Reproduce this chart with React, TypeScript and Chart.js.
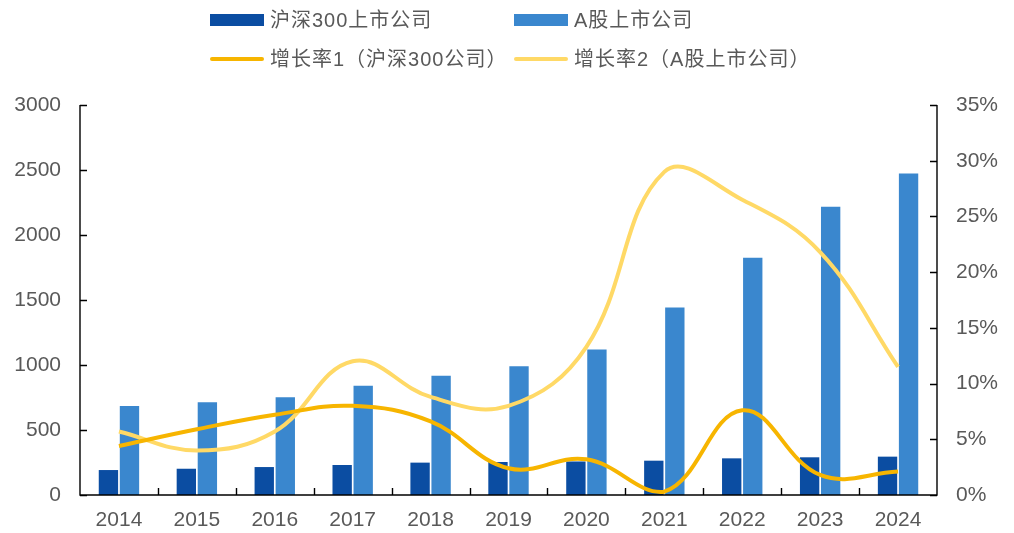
import React, { useEffect, useRef } from "react";
import { Chart, registerables } from "chart.js";
Chart.register(...registerables);

const years = ["2014", "2015", "2016", "2017", "2018", "2019", "2020", "2021", "2022", "2023", "2024"];
const hs300Companies = [192, 202, 215, 231, 249, 254, 258, 264, 282, 290, 295];
const aShareCompanies = [684, 713, 751, 841, 918, 990, 1120, 1443, 1825, 2217, 2474];
const growthRate1 = [4.4, 5.9, 7.2, 8.0, 6.6, 2.4, 3.2, 0.3, 7.6, 1.8, 2.1];
const growthRate2 = [5.7, 4.0, 5.7, 12.0, 8.8, 8.0, 13.3, 29.0, 26.5, 21.8, 11.5];
const leftMax = 3000;
const leftStep = 500;
const rightMax = 35;
const rightStep = 5;

const seriesNames = ["沪深300上市公司", "A股上市公司", "增长率1（沪深300公司）", "增长率2（A股上市公司）"];
const colors = ["#0B4DA2", "#3A87CE", "#F7B500", "#FFD966"];

const FONT = '"Liberation Sans", Arial, "Noto Sans CJK SC", sans-serif';
const TEXT = "#595959";

const axisPlugin = {
  id: "axisPlugin",
  afterDraw(chart: any) {
    const { ctx, chartArea: a, scales } = chart;
    const x = scales.x, y = scales.y, y1 = scales.y1;
    ctx.save();
    ctx.strokeStyle = "#000";
    ctx.lineWidth = 1.4;
    ctx.beginPath();
    y.ticks.forEach((t: any) => {
      const p = Math.round(y.getPixelForValue(t.value)) + 0.5;
      ctx.moveTo(a.left, p);
      ctx.lineTo(a.left + 7, p);
    });
    y1.ticks.forEach((t: any) => {
      const p = Math.round(y1.getPixelForValue(t.value)) + 0.5;
      ctx.moveTo(a.right, p);
      ctx.lineTo(a.right - 7, p);
    });
    const n = years.length;
    for (let i = 1; i < n; i++) {
      const px = Math.round((x.getPixelForValue(i - 1) + x.getPixelForValue(i)) / 2) + 0.5;
      ctx.moveTo(px, a.bottom);
      ctx.lineTo(px, a.bottom - 7);
    }
    ctx.moveTo(a.left, a.top);
    ctx.lineTo(a.left, a.bottom);
    ctx.lineTo(a.right, a.bottom);
    ctx.lineTo(a.right, a.top);
    ctx.stroke();
    ctx.restore();
  },
};

export default function App() {
  const ref = useRef<HTMLCanvasElement | null>(null);
  useEffect(() => {
    if (!ref.current) return;
    const chart = new Chart(ref.current, {
      type: "bar",
      data: {
        labels: years,
        datasets: [
          {
            type: "line",
            label: seriesNames[2],
            data: growthRate1,
            yAxisID: "y1",
            borderColor: colors[2],
            borderWidth: 4,
            pointRadius: 0,
            tension: 0.4,
            order: 0,
          } as any,
          {
            type: "line",
            label: seriesNames[3],
            data: growthRate2,
            yAxisID: "y1",
            borderColor: colors[3],
            borderWidth: 4,
            pointRadius: 0,
            tension: 0.4,
            order: 1,
          } as any,
          {
            type: "bar",
            label: seriesNames[0],
            data: hs300Companies,
            yAxisID: "y",
            backgroundColor: colors[0],
            categoryPercentage: 0.54,
            barPercentage: 0.92,
            order: 2,
          },
          {
            type: "bar",
            label: seriesNames[1],
            data: aShareCompanies,
            yAxisID: "y",
            backgroundColor: colors[1],
            categoryPercentage: 0.54,
            barPercentage: 0.92,
            order: 3,
          },
        ],
      },
      options: {
        animation: false,
        responsive: true,
        maintainAspectRatio: false,
        layout: { padding: { top: 105, left: 0, right: 0, bottom: 0 } },
        plugins: { legend: { display: false }, tooltip: { enabled: false } },
        scales: {
          x: {
            grid: { display: false, drawTicks: false },
            border: { display: false },
            ticks: { color: TEXT, font: { family: FONT, size: 21 }, padding: 13 },
            afterFit: (s: any) => { s.height = 38; },
          },
          y: {
            position: "left",
            min: 0,
            max: leftMax,
            grid: { display: false, drawTicks: false },
            border: { display: false },
            ticks: {
              stepSize: leftStep,
              color: TEXT,
              font: { family: FONT, size: 21 },
              padding: 19,
              callback: (v: any) => String(v),
            },
            afterFit: (s: any) => { s.width = 80; },
          },
          y1: {
            position: "right",
            min: 0,
            max: rightMax,
            grid: { display: false, drawTicks: false },
            border: { display: false },
            ticks: {
              stepSize: rightStep,
              color: TEXT,
              font: { family: FONT, size: 21 },
              padding: 19,
              callback: (v: any) => v + "%",
            },
            afterFit: (s: any) => { s.width = 77; },
          },
        },
      } as any,
      plugins: [axisPlugin],
    });
    return () => chart.destroy();
  }, []);

  const legendItems = [
    { name: seriesNames[0], color: colors[0], kind: "box", left: 210, cy: 20 },
    { name: seriesNames[1], color: colors[1], kind: "box", left: 514, cy: 20 },
    { name: seriesNames[2], color: colors[2], kind: "line", left: 210, cy: 59 },
    { name: seriesNames[3], color: colors[3], kind: "line", left: 514, cy: 59 },
  ];

  return (
    <div style={{ position: "fixed", left: 0, top: 0, width: 1014, height: 533, background: "#fff" }}>
      <canvas ref={ref} />
      {legendItems.map((it) => (
        <React.Fragment key={it.name}>
          <div
            style={{
              position: "absolute",
              left: it.left,
              top: it.kind === "box" ? it.cy - 6 : it.cy - 2,
              width: 54,
              height: it.kind === "box" ? 12 : 4,
              background: it.color,
              borderRadius: it.kind === "line" ? 2 : 0,
            }}
          />
          <div
            style={{
              position: "absolute",
              left: it.left + 60,
              top: it.cy - 13,
              height: 26,
              lineHeight: "26px",
              fontSize: 20,
              letterSpacing: 1,
              fontFamily: FONT,
              color: TEXT,
              whiteSpace: "nowrap",
            }}
          >
            {it.name}
          </div>
        </React.Fragment>
      ))}
    </div>
  );
}
